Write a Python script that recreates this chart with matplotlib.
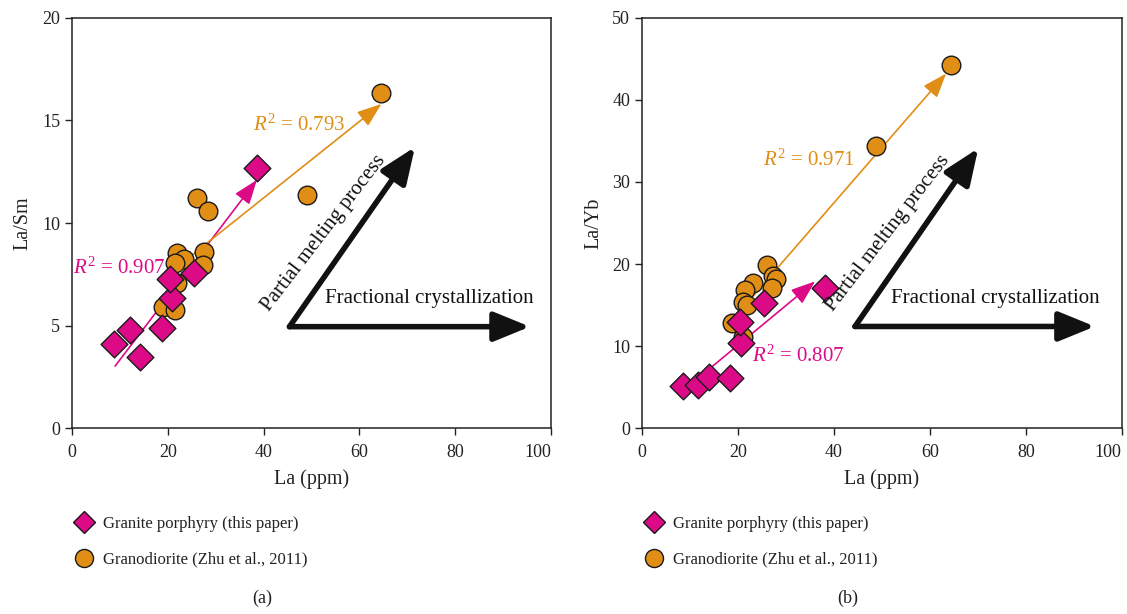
import matplotlib
matplotlib.use("Agg")
import matplotlib.pyplot as plt
from matplotlib.lines import Line2D

plt.rcParams['font.family'] = ['Liberation Serif', 'DejaVu Serif']
plt.rcParams['mathtext.fontset'] = 'custom'
plt.rcParams['mathtext.rm'] = 'Liberation Serif'
plt.rcParams['mathtext.it'] = 'Liberation Serif:italic'

PINK = '#DC0A87'
ORANGE = '#E08E16'

# ---- data ----
gp_la_a = [8.8, 12.1, 14.2, 18.8, 20.9, 20.4, 25.5, 38.6]
gp_lasm = [4.1, 4.8, 3.46, 4.9, 6.36, 7.27, 7.55, 12.7]
gd_la_a = [64.6, 49.1, 26.0, 28.3, 21.9, 23.4, 21.5, 27.6, 27.4, 21.9, 19.1, 21.5]
gd_lasm = [16.35, 11.35, 11.2, 10.58, 8.52, 8.23, 8.04, 8.6, 7.95, 7.06, 5.9, 5.76]

gp_la_b = [8.6, 11.7, 14.0, 18.3, 20.6, 20.4, 25.4, 38.2]
gp_layb = [5.15, 5.3, 6.3, 6.1, 10.35, 12.9, 15.2, 17.1]
gd_la_b = [64.4, 48.8, 26.0, 27.4, 28.0, 27.2, 23.2, 21.5, 21.1, 21.8, 18.7, 21.1]
gd_layb = [44.25, 34.4, 19.9, 18.5, 18.2, 17.1, 17.7, 16.9, 15.4, 15.0, 12.8, 11.1]

# trend arrows (start, end)
trend_a_gp = [(9.0, 3.03), (38.6, 12.1)]
trend_a_gd = [(22.0, 7.87), (64.6, 15.8)]
trend_b_gp = [(9.0, 4.8), (36.1, 17.9)]
trend_b_gd = [(23.3, 16.2), (63.4, 43.2)]
r2_a = ['0.907', '0.793']
r2_b = ['0.807', '0.971']

# process arrows: corner, horizontal tip, diagonal tip
proc_a = [(45.4, 4.95), (95.6, 4.95), (71.6, 13.7)]
proc_b = [(44.4, 12.4), (94.4, 12.4), (70.1, 34.1)]

x_ticks = [0, 20, 40, 60, 80, 100]

fig = plt.figure(figsize=(11.27, 6.14), dpi=100)
ax1 = fig.add_axes([72/1127, 1-428.3/614, 479/1127, 410.6/614])
ax2 = fig.add_axes([642/1127, 1-428.3/614, 479.7/1127, 410.6/614])

def style(ax, ymax, yticks, ylabel, ypad):
    ax.set_xlim(0, 100)
    ax.set_ylim(0, ymax)
    ax.set_xticks(x_ticks)
    ax.set_yticks(yticks)
    ax.tick_params(direction='out', length=5, width=1, labelsize=13, colors='#222222')
    ax.tick_params(axis='x', pad=6)
    labs = ax.get_xticklabels()
    labs[-1].set_horizontalalignment('right')
    for s in ax.spines.values():
        s.set_linewidth(1.1)
        s.set_color('#222222')
    ax.set_xlabel('La (ppm)', fontsize=14.5, color='#222222', labelpad=6)
    ax.set_ylabel(ylabel, fontsize=14.5, color='#222222', labelpad=ypad)

def arrow(ax, p0, p1, color, lw, hl, hw, z=2):
    ax.annotate('', xy=p1, xytext=p0,
                arrowprops=dict(arrowstyle=f'-|>,head_length={hl},head_width={hw}',
                                color=color, lw=lw, shrinkA=0, shrinkB=0,
                                mutation_scale=10), zorder=z)

def panel(ax, gpx, gpy, gdx, gdy, tgp, tgd, proc):
    arrow(ax, tgp[0], tgp[1], PINK, 1.2, 1.5, 0.55)
    arrow(ax, tgd[0], tgd[1], ORANGE, 1.2, 1.5, 0.55)
    ax.scatter(gdx, gdy, s=180, marker='o', facecolor=ORANGE, edgecolor='#1a1a1a', linewidth=1.0, zorder=3)
    ax.scatter(gpx, gpy, s=185, marker='D', facecolor=PINK, edgecolor='#1a1a1a', linewidth=1.0, zorder=4)
    c, h, d = proc
    arrow(ax, c, h, '#111111', 4, 2.2, 0.9)
    arrow(ax, c, d, '#111111', 4, 2.2, 0.9)

style(ax1, 20, [0, 5, 10, 15, 20], 'La/Sm', 7)
style(ax2, 50, [0, 10, 20, 30, 40, 50], 'La/Yb', 6)
panel(ax1, gp_la_a, gp_lasm, gd_la_a, gd_lasm, trend_a_gp, trend_a_gd, proc_a)
panel(ax2, gp_la_b, gp_layb, gd_la_b, gd_layb, trend_b_gp, trend_b_gd, proc_b)

def figtext_px(x, y, s, **kw):
    fig.text(x/1127, 1-y/614, s, **kw)

# R2 labels
figtext_px(119, 268, r'$R^2$ = ' + r2_a[0], color=PINK, fontsize=15, ha='center', va='center')
figtext_px(299, 125, r'$R^2$ = ' + r2_a[1], color=ORANGE, fontsize=15, ha='center', va='center')
figtext_px(798, 356, r'$R^2$ = ' + r2_b[0], color=PINK, fontsize=15, ha='center', va='center')
figtext_px(809, 160, r'$R^2$ = ' + r2_b[1], color=ORANGE, fontsize=15, ha='center', va='center')

# process labels
figtext_px(429, 298, 'Fractional crystallization', fontsize=15, ha='center', va='center', color='#111111')
figtext_px(324, 233, 'Partial melting process', fontsize=15, ha='center', va='center', rotation=52.5,
           rotation_mode='anchor', color='#111111')
figtext_px(995, 298, 'Fractional crystallization', fontsize=15, ha='center', va='center', color='#111111')
figtext_px(888, 233, 'Partial melting process', fontsize=15, ha='center', va='center', rotation=52.5,
           rotation_mode='anchor', color='#111111')

# legends
handles = [Line2D([], [], ls='none', marker='D', ms=11, mfc=PINK, mec='#1a1a1a', mew=1.0),
           Line2D([], [], ls='none', marker='o', ms=13, mfc=ORANGE, mec='#1a1a1a', mew=1.0)]
labels = ['Granite porphyry (this paper)', 'Granodiorite (Zhu et al., 2011)']
for ax in (ax1, ax2):
    ax.legend(handles, labels, loc='upper left', bbox_to_anchor=(0.005, -0.214), frameon=False,
              fontsize=12, handlelength=1.1, handletextpad=0.6, borderpad=0, borderaxespad=0,
              labelspacing=1.15, labelcolor='#222222')

figtext_px(262, 598, '(a)', fontsize=13, ha='center', va='center', color='#222222')
figtext_px(848, 598, '(b)', fontsize=13, ha='center', va='center', color='#222222')

fig.savefig('out.png', dpi=100)
